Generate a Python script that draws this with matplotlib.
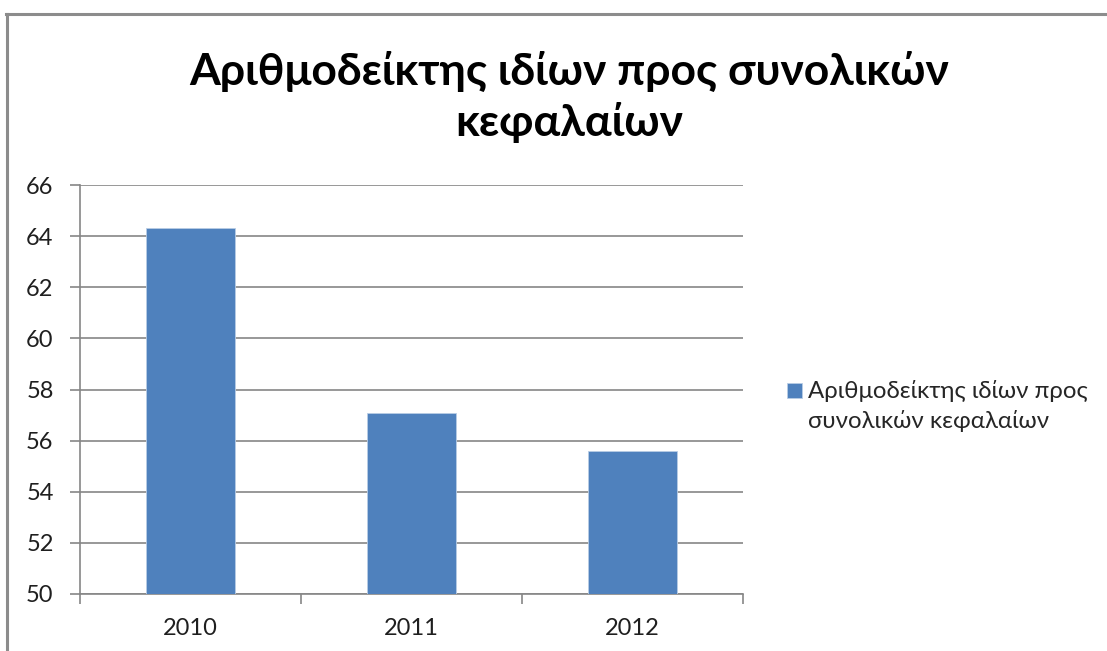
import matplotlib
matplotlib.use("Agg")
import matplotlib.pyplot as plt
from matplotlib.lines import Line2D
from matplotlib.patches import Rectangle

plt.rcParams['font.family'] = ['Lato', 'Open Sans', 'DejaVu Sans']

# Data
years = ['2010', '2011', '2012']
ratio = [64.3, 57.1, 55.6]
series_name = 'Αριθμοδείκτης ιδίων προς\nσυνολικών κεφαλαίων'
title = 'Αριθμοδείκτης ιδίων προς συνολικών\nκεφαλαίων'
y_ticks = [50, 52, 54, 56, 58, 60, 62, 64, 66]

bar_color = '#4F81BD'
bar_edge = '#B9CDE5'
axis_gray = '#868686'
text_color = '#1f1f1f'

W, H = 1107, 651
fig = plt.figure(figsize=(W / 100, H / 100), dpi=100)
fig.patch.set_facecolor('white')

# chart frame (top and left edges)
fig.add_artist(Line2D([6 / W, 1.0], [1 - 14 / H, 1 - 14 / H], color='#8c8c8c', lw=2.2))
fig.add_artist(Line2D([7 / W, 7 / W], [0.0, 1 - 14 / H], color='#8c8c8c', lw=2.2))

ax = fig.add_axes([80 / W, 1 - 594 / H, (743 - 80) / W, (594 - 185) / H])
x = range(len(years))
ax.bar(x, ratio, width=0.4, color=bar_color, edgecolor=bar_edge, linewidth=0.6, zorder=3)
ax.set_xlim(-0.5, len(years) - 0.5)
ax.set_ylim(50, 66)
ax.set_yticks(y_ticks)
ax.set_xticks(list(x))
ax.set_xticklabels(years)

# category boundary ticks
ax.set_xticks([i - 0.5 for i in range(len(years) + 1)], minor=True)
ax.tick_params(axis='x', which='major', length=0, pad=17, labelsize=17, labelcolor=text_color)
ax.tick_params(axis='x', which='minor', length=7, width=1.2, color=axis_gray, direction='out')
ax.tick_params(axis='y', length=7, width=1.2, color=axis_gray, pad=12, labelsize=17,
               labelcolor=text_color)

ax.grid(axis='y', color=axis_gray, linewidth=1.2, zorder=0)
for side in ['top', 'right']:
    ax.spines[side].set_visible(False)
for side in ['left', 'bottom']:
    ax.spines[side].set_color(axis_gray)
    ax.spines[side].set_linewidth(1.2)

fig.text(569 / W, 1 - 97 / H, title, ha='center', va='center', fontsize=32,
         fontweight='bold', linespacing=1.3, color='black')

# legend: swatch aligned with the first line of the label
fig.add_artist(Rectangle((787 / W, 1 - 398 / H), 15 / W, 15 / H, transform=fig.transFigure,
                         facecolor=bar_color, edgecolor=bar_edge, linewidth=0.6))
fig.text(808 / W, 1 - 380 / H, series_name, ha='left', va='top', fontsize=17.3,
         linespacing=1.45, color='#262626')

fig.savefig('out.png', dpi=100, facecolor='white')
